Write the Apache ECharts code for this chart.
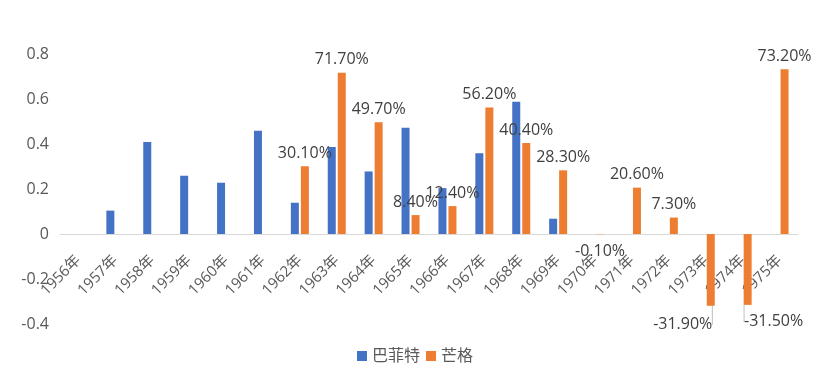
<!DOCTYPE html>
<html>
<head>
<meta charset="utf-8">
<script src="https://cdn.jsdelivr.net/npm/echarts@6/dist/echarts.min.js"></script>
<style>
  html, body { margin: 0; padding: 0; background: #fff; }
  #chart { width: 830px; height: 378px; }
</style>
</head>
<body>
<div id="chart"></div>
<script>
const years = ['1956年', '1957年', '1958年', '1959年', '1960年', '1961年', '1962年', '1963年', '1964年', '1965年',
  '1966年', '1967年', '1968年', '1969年', '1970年', '1971年', '1972年', '1973年', '1974年', '1975年']
const buffett = [null, 0.104, 0.409, 0.259, 0.228, 0.459, 0.139, 0.387, 0.278, 0.472,
  0.204, 0.359, 0.588, 0.068, null, null, null, null, null, null]
const munger = [null, null, null, null, null, null, 0.301, 0.717, 0.497, 0.084,
  0.124, 0.562, 0.404, 0.283, -0.001, 0.206, 0.073, -0.319, -0.315, 0.732]
const yTicks = { min: -0.4, max: 0.8, interval: 0.2 }

const font = "'Open Sans', 'Noto Sans CJK SC', sans-serif"
const chart = echarts.init(document.getElementById('chart'))

// 负值标签放到柱子下方；两个大负值向旁边偏移并带引导线
// (padding 让引导线连到标签顶部，形成斜线)
const mungerData = munger.map((v, i) => {
  if (v === null || v >= 0) return v
  const item = { value: v, label: { position: 'bottom', distance: 9 } }
  if (i === 17) item.label.padding = [0, 20, 0, 0]
  if (i === 18) item.label.padding = [0, 0, 0, 20]
  if (i === 17 || i === 18) item.labelLine = { show: true }
  return item
})

chart.setOption({
  animation: false,
  textStyle: { fontFamily: font },
  grid: { left: 60, right: 32, top: 54, bottom: 54 },
  legend: {
    top: 343,
    left: 'center',
    icon: 'rect',
    itemWidth: 10,
    itemHeight: 10,
    itemGap: 6,
    textStyle: { color: '#595959', fontSize: 16, fontFamily: font },
  },
  xAxis: {
    type: 'category',
    data: years,
    offset: -90,
    axisTick: { show: false },
    axisLine: { onZero: false, lineStyle: { color: '#d9d9d9' } },
    axisLabel: { rotate: 45, margin: 24, color: '#595959', fontSize: 15, interval: 0 },
  },
  yAxis: {
    type: 'value',
    ...yTicks,
    splitLine: { show: false },
    axisLabel: { color: '#595959', fontSize: 16, margin: 11 },
  },
  series: [
    {
      name: '巴菲特',
      type: 'bar',
      data: buffett,
      barWidth: 8,
      barGap: '25%',
      itemStyle: { color: '#4472C4' },
    },
    {
      name: '芒格',
      type: 'bar',
      data: mungerData,
      barWidth: 8,
      itemStyle: { color: '#ED7D31' },
      label: {
        show: true,
        color: '#404040',
        fontSize: 16,
        distance: 5,
        position: 'top',
        formatter: p => (p.value * 100).toFixed(2) + '%',
      },
      labelLine: { show: false, lineStyle: { color: '#bfbfbf', width: 1 } },
      labelLayout: p => {
        if (p.dataIndex === 17) return { dx: -18, dy: 2 }
        if (p.dataIndex === 18) return { dx: 16, dy: 0 }
        return {}
      },
    },
  ],
})
</script>
</body>
</html>
